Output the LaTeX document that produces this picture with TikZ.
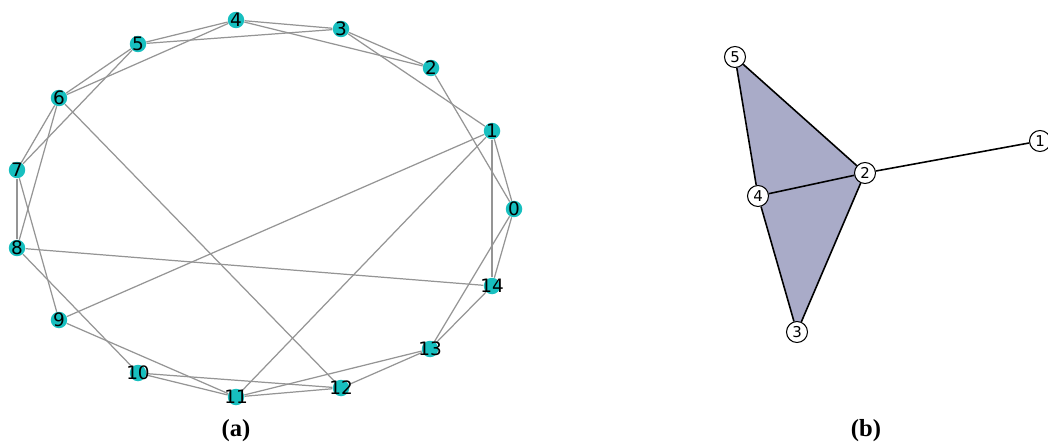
\documentclass[tikz,border=0pt]{standalone}
\usepackage{fontspec}
\setmainfont{Liberation Serif}
\newfontfamily\nodefont{DejaVu Sans}
\usetikzlibrary{backgrounds}
\definecolor{figcyan}{HTML}{17BFBF}
\definecolor{figedge}{HTML}{959595}
\definecolor{figface}{HTML}{A9ABC8}
\tikzset{
  ringnode/.style={circle, fill=figcyan, draw=none, minimum size=0.33cm, inner sep=0pt,
    font=\nodefont\fontsize{10.5}{10.5}\selectfont},
  ringedge/.style={draw=figedge, line width=0.7pt},
  cplxnode/.style={circle, draw=black, fill=white, line width=0.6pt, minimum size=0.42cm, inner sep=0pt,
    font=\nodefont\fontsize{8.5}{8.5}\selectfont},
  cplxedge/.style={draw=black, line width=0.9pt},
  cplxface/.style={fill=figface, draw=none},
  subcap/.style={font=\bfseries\fontsize{14}{14}\selectfont}
}

\begin{document}
\begin{tikzpicture}[x=0.02cm,y=-0.02cm]
  \useasboundingbox (0,0) rectangle (1048,446);
  % (a) ring graph, 15 nodes
  \foreach \n/\x/\y in {0/514/209,1/492/131,2/431/68,3/341/29,4/236/20,
      5/138/44,6/59/98,7/17/170,8/17/248,9/59/320,10/138/373,
      11/236/397,12/341/388,13/430/349,14/492/286} {
    \node[ringnode] (a\n) at (\x,\y) {\makebox[0pt]{\n}};
  }
  \begin{scope}[on background layer]
    \foreach \s/\t in {0/1,0/2,0/13,0/14,1/3,1/9,1/11,1/14,2/3,2/4,
        3/4,3/5,4/5,4/6,5/6,5/7,6/7,6/8,6/12,7/8,7/9,8/10,8/14,
        9/11,10/11,10/12,11/12,11/13,12/13,13/14} {
      \draw[ringedge] (a\s) -- (a\t);
    }
  \end{scope}
  % (b) simplicial complex
  \foreach \n/\x/\y in {1/1040/141,2/865/173,3/797/332,4/758/196,5/735/57} {
    \node[cplxnode] (b\n) at (\x,\y) {\n};
  }
  \begin{scope}[on background layer]
    \fill[cplxface] (b5.center) -- (b4.center) -- (b2.center) -- cycle;
    \fill[cplxface] (b4.center) -- (b3.center) -- (b2.center) -- cycle;
    \foreach \s/\t in {5/4,5/2,4/2,4/3,3/2,2/1} {
      \draw[cplxedge] (b\s) -- (b\t);
    }
  \end{scope}
  % captions
  \node[subcap] (capa) at (236,431) {(a)};
  \node[subcap] (capb) at (866,431) {(b)};
\end{tikzpicture}
\end{document}
